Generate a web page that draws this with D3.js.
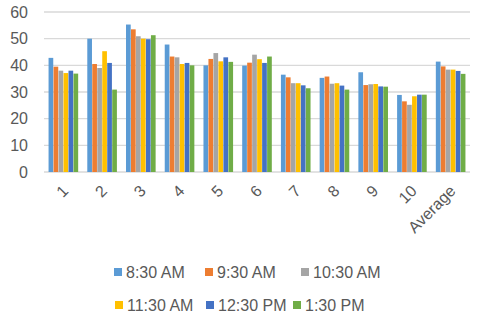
<!DOCTYPE html>
<html lang="en">
<head>
<meta charset="UTF-8">
<title>Clustered columns</title>
<script src="https://d3js.org/d3.v7.min.js"></script>
<style>
  body { margin: 0; background: #fff; }
  text { font-family: "Liberation Sans", Arial, sans-serif; fill: #595959; }
</style>
</head>
<body>
<svg width="480" height="318"></svg>
<script>
const categories = ["1", "2", "3", "4", "5", "6", "7", "8", "9", "10", "Average"];
const seriesNames = ["8:30 AM", "9:30 AM", "10:30 AM", "11:30 AM", "12:30 PM", "1:30 PM"];
const s830  = [42.8, 50.0, 55.3, 47.8, 40.0, 39.9, 36.5, 35.3, 37.4, 28.9, 41.4];
const s930  = [39.5, 40.5, 53.5, 43.3, 42.4, 41.0, 35.5, 35.8, 32.6, 26.5, 39.6];
const s1030 = [38.0, 39.0, 50.9, 43.0, 44.6, 44.0, 33.3, 33.1, 32.9, 25.2, 38.4];
const s1130 = [37.1, 45.3, 50.0, 40.5, 41.5, 42.3, 33.3, 33.3, 33.0, 28.4, 38.4];
const s1230 = [38.0, 40.9, 49.8, 40.9, 43.0, 40.9, 32.5, 32.4, 32.1, 29.0, 37.9];
const s130  = [36.9, 30.9, 51.3, 40.0, 41.3, 43.3, 31.4, 30.9, 32.0, 29.0, 36.8];
const yTicks = [0, 10, 20, 30, 40, 50, 60];
const colors = ["#5B9BD5", "#ED7D31", "#A5A5A5", "#FFC000", "#4472C4", "#70AD47"];

const allSeries = [s830, s930, s1030, s1130, s1230, s130];
const data = categories.map((c, i) => ({
  cat: c,
  vals: allSeries.map((s, j) => ({ key: seriesNames[j], v: s[i] }))
}));

const svg = d3.select("svg");
const margin = { top: 12, left: 44, right: 10, bottom: 146 };
const width = 480 - margin.left - margin.right;
const height = 318 - margin.top - margin.bottom;

const g = svg.append("g").attr("transform", `translate(${margin.left},${margin.top})`);

const x0 = d3.scaleBand().domain(categories).range([0, width]).paddingInner(0.22).paddingOuter(0.11);
const x1 = d3.scaleBand().domain(seriesNames).range([0, x0.bandwidth()]).padding(0.06);
const y = d3.scaleLinear().domain([0, 60]).range([height, 0]);
const color = d3.scaleOrdinal().domain(seriesNames).range(colors);

// gridlines
g.selectAll(".grid")
  .data(yTicks)
  .enter().append("line")
  .attr("x1", 0).attr("x2", width)
  .attr("y1", d => y(d)).attr("y2", d => y(d))
  .attr("stroke", "#D9D9D9").attr("stroke-width", 1.3);

// y labels
g.selectAll(".ylab")
  .data(yTicks)
  .enter().append("text")
  .attr("x", -16)
  .attr("y", d => y(d))
  .attr("dy", "0.36em")
  .attr("text-anchor", "end")
  .style("font-size", "16px")
  .text(d => d);

const groups = g.selectAll(".grp")
  .data(data)
  .enter().append("g")
  .attr("transform", d => `translate(${x0(d.cat)},0)`);

groups.selectAll("rect")
  .data(d => d.vals)
  .enter().append("rect")
  .attr("x", d => x1(d.key))
  .attr("width", x1.bandwidth())
  .attr("y", d => y(d.v))
  .attr("height", d => y(0) - y(d.v))
  .attr("fill", d => color(d.key));

// x labels rotated
g.selectAll(".xlab")
  .data(categories)
  .enter().append("text")
  .attr("text-anchor", "end")
  .attr("transform", d => `translate(${x0(d) + x0.bandwidth() / 2 + 6},${height + 20}) rotate(-45)`)
  .style("font-size", "16px")
  .text(d => d);

// legend
const legendPos = [
  [114, 272], [205, 272], [301, 272],
  [115, 305], [206, 305], [293, 305]
];
const legend = svg.selectAll(".legend")
  .data(seriesNames)
  .enter().append("g")
  .attr("transform", (d, i) => `translate(${legendPos[i][0]},${legendPos[i][1]})`);

legend.append("rect")
  .attr("x", 0).attr("y", -4)
  .attr("width", 8).attr("height", 8)
  .attr("fill", d => color(d));

legend.append("text")
  .attr("x", 12)
  .attr("dy", "0.35em")
  .style("font-size", "16px")
  .text(d => d);
</script>
</body>
</html>
